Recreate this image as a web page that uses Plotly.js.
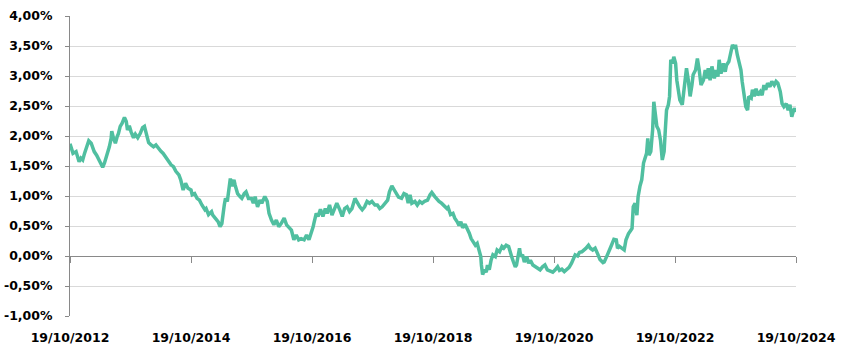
<!DOCTYPE html>
<html>
<head>
<meta charset="utf-8">
<script src="https://cdn.plot.ly/plotly-3.0.1.min.js"></script>
<style>html,body{margin:0;padding:0;background:#fff}#chart{width:847px;height:362px}</style>
</head>
<body>
<div id="chart"></div>
<script>
// Time in decimal years (19/10/2012 = 2012.80)
const years = [
2012.80,2012.85,2012.90,2012.93,2012.95,2012.98,2013.01,2013.04,2013.08,2013.11,
2013.15,2013.18,2013.20,2013.24,2013.28,2013.31,2013.34,2013.37,2013.41,2013.45,
2013.48,2013.49,2013.52,2013.55,2013.58,2013.60,2013.63,2013.66,2013.70,2013.73,
2013.75,2013.78,2013.81,2013.85,2013.88,2013.92,2013.96,2014.00,2014.03,2014.07,
2014.10,2014.14,2014.18,2014.22,2014.27,2014.30,2014.34,2014.39,2014.43,2014.47,
2014.51,2014.55,2014.60,2014.63,2014.67,2014.71,2014.75,2014.80,2014.82,2014.86,
2014.90,2014.94,2014.98,2015.03,2015.05,2015.09,2015.14,2015.16,2015.20,2015.25,
2015.28,2015.31,2015.35,2015.37,2015.40,2015.43,2015.45,2015.48,2015.51,2015.53,
2015.57,2015.61,2015.64,2015.68,2015.71,2015.75,2015.80,2015.83,2015.86,2015.90,
2015.94,2015.97,2016.02,2016.06,2016.09,2016.13,2016.17,2016.21,2016.25,2016.29,
2016.34,2016.38,2016.41,2016.46,2016.50,2016.54,2016.58,2016.62,2016.67,2016.71,
2016.75,2016.79,2016.82,2016.83,2016.87,2016.90,2016.94,2016.98,2017.02,2017.05,
2017.09,2017.13,2017.18,2017.21,2017.26,2017.30,2017.34,2017.38,2017.42,2017.46,
2017.51,2017.55,2017.59,2017.63,2017.67,2017.71,2017.75,2017.79,2017.84,2017.88,
2017.92,2017.96,2018.00,2018.05,2018.08,2018.12,2018.16,2018.19,2018.23,2018.28,
2018.32,2018.36,2018.39,2018.42,2018.45,2018.50,2018.54,2018.58,2018.62,2018.66,
2018.71,2018.75,2018.78,2018.83,2018.86,2018.90,2018.94,2018.98,2019.03,2019.05,
2019.09,2019.13,2019.16,2019.20,2019.23,2019.26,2019.29,2019.33,2019.37,2019.40,
2019.43,2019.47,2019.50,2019.53,2019.57,2019.59,2019.60,2019.62,2019.65,2019.68,
2019.70,2019.73,2019.76,2019.79,2019.83,2019.86,2019.90,2019.94,2019.97,2020.01,
2020.05,2020.07,2020.10,2020.13,2020.16,2020.18,2020.21,2020.23,2020.25,2020.28,
2020.31,2020.35,2020.38,2020.41,2020.45,2020.49,2020.52,2020.57,2020.61,2020.65,
2020.69,2020.73,2020.78,2020.82,2020.86,2020.89,2020.93,2020.97,2021.01,2021.05,
2021.09,2021.12,2021.15,2021.19,2021.22,2021.26,2021.30,2021.33,2021.37,2021.40,
2021.44,2021.48,2021.52,2021.56,2021.61,2021.63,2021.67,2021.71,2021.75,2021.79,
2021.83,2021.85,2021.88,2021.92,2021.96,2021.99,2022.03,2022.07,2022.09,2022.11,
2022.14,2022.17,2022.19,2022.22,2022.25,2022.28,2022.30,2022.33,2022.35,2022.37,
2022.40,2022.43,2022.45,2022.47,2022.50,2022.53,2022.56,2022.59,2022.62,2022.64,
2022.66,2022.69,2022.71,2022.73,2022.76,2022.78,2022.81,2022.83,2022.85,2022.88,
2022.92,2022.95,2022.97,2022.99,2023.02,2023.05,2023.08,2023.10,2023.14,2023.17,
2023.20,2023.23,2023.27,2023.30,2023.32,2023.35,2023.38,2023.41,2023.45,2023.48,
2023.51,2023.53,2023.56,2023.60,2023.63,2023.65,2023.69,2023.72,2023.75,2023.78,
2023.80,2023.83,2023.86,2023.89,2023.91,2023.94,2023.97,2024.00,2024.02,2024.06,
2024.08,2024.11,2024.14,2024.17,2024.21,2024.24,2024.27,2024.30,2024.33,2024.37,
2024.40,2024.44,2024.47,2024.50,2024.54,2024.57,2024.60,2024.64,2024.67,2024.70,
2024.73,2024.76,2024.78,2024.80
];
// Yield in percent
const yieldPct = [
1.87,1.71,1.74,1.66,1.57,1.63,1.60,1.71,1.82,1.92,
1.88,1.77,1.74,1.68,1.60,1.55,1.48,1.55,1.68,1.82,
1.96,2.08,1.96,1.88,1.99,2.04,2.16,2.21,2.31,2.24,
2.10,2.17,2.07,1.97,2.03,1.97,2.04,2.14,2.16,2.02,
1.89,1.85,1.82,1.85,1.78,1.75,1.71,1.63,1.57,1.52,
1.49,1.41,1.35,1.27,1.10,1.21,1.13,1.10,1.02,1.04,
0.96,0.93,0.85,0.77,0.79,0.69,0.74,0.68,0.63,0.57,
0.49,0.54,0.85,0.96,0.91,1.18,1.29,1.16,1.27,1.18,
1.04,0.99,0.96,1.04,1.07,0.96,0.96,0.88,0.99,0.82,
0.93,0.88,0.99,0.91,0.71,0.60,0.52,0.60,0.49,0.54,
0.63,0.52,0.49,0.43,0.27,0.35,0.27,0.29,0.27,0.35,
0.27,0.38,0.49,0.54,0.71,0.66,0.78,0.66,0.79,0.71,
0.85,0.68,0.82,0.88,0.77,0.66,0.79,0.82,0.74,0.79,
0.96,0.88,0.82,0.77,0.82,0.91,0.88,0.91,0.85,0.85,
0.79,0.82,0.88,0.93,1.07,1.17,1.10,1.04,0.98,0.96,
1.04,1.02,0.88,1.02,0.88,0.91,0.85,0.91,0.88,0.91,
0.93,1.02,1.06,0.99,0.95,0.91,0.88,0.84,0.79,0.81,
0.69,0.71,0.63,0.57,0.51,0.57,0.47,0.53,0.46,0.38,
0.29,0.21,0.18,0.21,0.04,-0.01,-0.15,-0.31,-0.23,-0.27,
-0.15,-0.23,-0.07,0.02,-0.01,0.10,0.07,0.16,0.13,0.18,
0.16,0.07,-0.01,-0.10,-0.18,-0.15,0.04,0.13,-0.01,0.02,
-0.10,-0.01,-0.12,-0.07,-0.15,-0.18,-0.21,-0.23,-0.18,-0.15,
-0.23,-0.25,-0.27,-0.23,-0.18,-0.24,-0.22,-0.26,-0.23,-0.19,
-0.12,-0.04,0.02,0.00,0.06,0.07,0.10,0.13,0.18,0.13,
0.10,0.13,0.04,-0.06,-0.11,-0.10,-0.01,0.07,0.18,0.28,
0.27,0.13,0.16,0.13,0.10,0.27,0.37,0.43,0.46,0.82,
0.88,0.68,0.99,1.16,1.27,1.55,1.60,1.71,1.96,1.68,
1.74,2.10,2.57,2.43,2.16,2.10,1.93,1.60,1.74,2.10,
2.43,2.52,2.66,3.27,3.21,3.32,3.21,2.93,2.77,2.60,
2.52,2.77,3.04,3.13,2.93,2.66,2.85,3.02,3.10,3.29,
3.10,2.85,2.93,3.10,2.96,3.13,2.93,3.16,2.96,3.10,
2.99,3.27,3.04,3.21,3.07,3.18,3.24,3.38,3.52,3.46,
3.52,3.35,3.24,3.10,2.91,2.66,2.49,2.43,2.66,2.63,
2.77,2.66,2.79,2.68,2.74,2.68,2.85,2.77,2.88,2.82,
2.91,2.85,2.91,2.88,2.74,2.54,2.49,2.54,2.43,2.52,
2.32,2.43,2.46,2.40
];
const xTickVals = [2012.8, 2014.8, 2016.8, 2018.8, 2020.8, 2022.8, 2024.8];
const xTickLabels = ["19/10/2012","19/10/2014","19/10/2016","19/10/2018","19/10/2020","19/10/2022","19/10/2024"];
const yTickVals = [-1, -0.5, 0, 0.5, 1, 1.5, 2, 2.5, 3, 3.5, 4];
const yTickLabels = ["-1,00%","-0,50%","0,00%","0,50%","1,00%","1,50%","2,00%","2,50%","3,00%","3,50%","4,00%"];

const tickFont = {family: "DejaVu Sans", size: 12.5, color: "#000", weight: "bold"};
const axisGray = "#898989";

const traces = [
  {x: years, y: yieldPct, type: "scatter", mode: "lines",
   line: {color: "#50bfa0", width: 3.5}, hoverinfo: "skip", showlegend: false},
  {x: [], y: [], xaxis: "x2", yaxis: "y", type: "scatter", mode: "lines",
   hoverinfo: "skip", showlegend: false}
];

const layout = {
  width: 847, height: 362,
  margin: {l: 70, r: 51, t: 16, b: 46, pad: 0},
  paper_bgcolor: "#fff", plot_bgcolor: "#fff",
  showlegend: false,
  xaxis: {
    range: [2012.8, 2024.8], tickvals: xTickVals, ticktext: xTickLabels,
    showgrid: false, zeroline: false, showline: false, ticks: "",
    tickfont: tickFont, ticklabelstandoff: 12, fixedrange: true
  },
  xaxis2: {
    overlaying: "x", anchor: "free", position: 0.2,
    range: [2012.8, 2024.8], tickvals: xTickVals,
    showticklabels: false, showgrid: false, zeroline: false, showline: false,
    ticks: "outside", ticklen: 6, tickwidth: 1, tickcolor: axisGray
  },
  yaxis: {
    range: [-1, 4], tickvals: yTickVals, ticktext: yTickLabels,
    showgrid: true, gridcolor: "#d9d9d9", gridwidth: 1,
    zeroline: true, zerolinecolor: axisGray, zerolinewidth: 1,
    showline: true, linecolor: axisGray, linewidth: 1,
    ticks: "outside", ticklen: 4, tickcolor: axisGray,
    tickfont: tickFont, ticklabelstandoff: 10, fixedrange: true
  }
};

Plotly.newPlot("chart", traces, layout, {displayModeBar: false, staticPlot: true});
</script>
</body>
</html>
